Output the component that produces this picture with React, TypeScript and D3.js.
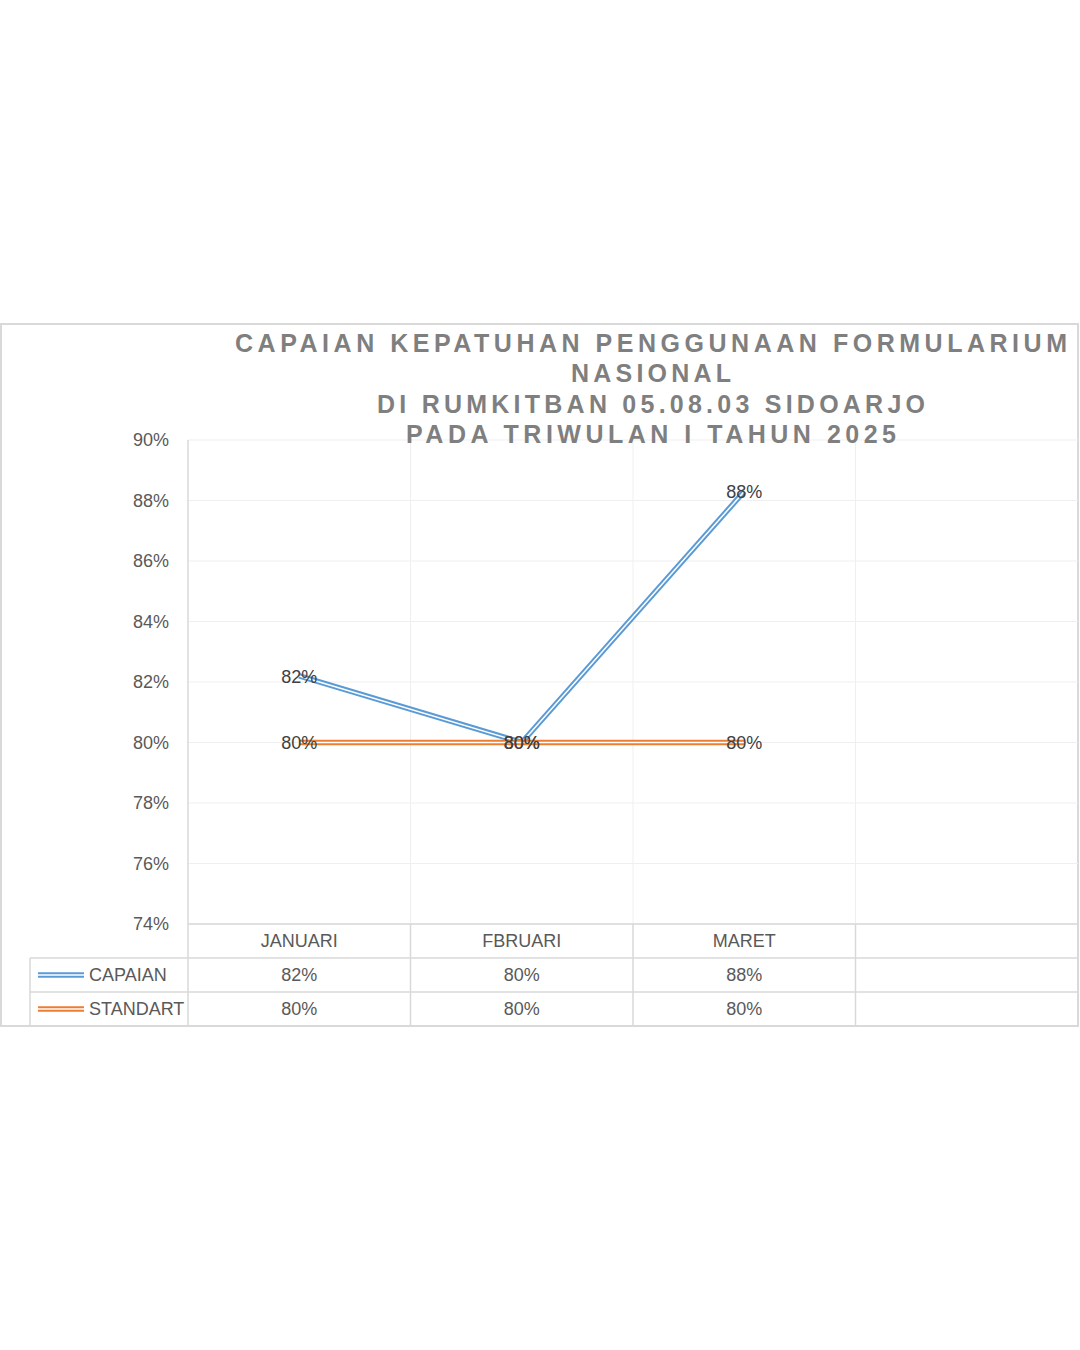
import React from "react";
import * as d3 from "d3";

const titleLines = [
  "CAPAIAN KEPATUHAN PENGGUNAAN FORMULARIUM",
  "NASIONAL",
  "DI RUMKITBAN 05.08.03 SIDOARJO",
  "PADA TRIWULAN I TAHUN 2025",
];
const categories = ["JANUARI", "FBRUARI", "MARET", ""];
const seriesNames = ["CAPAIAN", "STANDART"];
const capaian = [0.822, 0.8, 0.883];
const standart = [0.8, 0.8, 0.8];
const yTicks = [0.74, 0.76, 0.78, 0.8, 0.82, 0.84, 0.86, 0.88, 0.9];
const colors = ["#5B9BD5", "#ED7D31"];

const W = 1080;
const H = 1350;
const FONT = "'Liberation Sans', Arial, sans-serif";
const titleWidths = [832, 160, 548, 490];

export default function App() {
  const plotL = 188;
  const plotR = 1078;
  const plotT = 440;
  const plotB = 924;
  const rowH = 34;
  const legendL = 30;

  const x = d3.scaleBand<string>().domain(categories).range([plotL, plotR]);
  const y = d3.scaleLinear().domain([0.74, 0.9]).range([plotB, plotT]);
  const fmt = d3.format(".0%");
  const series = [capaian, standart];

  const line = d3
    .line<number>()
    .x((_, i) => (x(categories[i]) as number) + x.bandwidth() / 2)
    .y((d) => y(d));

  const tableBottom = plotB + rowH * 3;

  return (
    <svg
      width={W}
      height={H}
      style={{ position: "absolute", left: 0, top: 0, background: "#fff" }}
      fontFamily={FONT}
    >
      <rect x={0} y={0} width={W} height={H} fill="#fff" />
      <rect x={1} y={324} width={1077} height={702} fill="#fff" stroke="#d9d9d9" strokeWidth={2} />

      {yTicks.map((t) => (
        <line key={"g" + t} x1={plotL} x2={plotR} y1={y(t)} y2={y(t)} stroke="#efefef" strokeWidth={1} />
      ))}
      {categories.slice(1).map((c) => (
        <line
          key={"v" + c}
          x1={x(c) as number}
          x2={x(c) as number}
          y1={plotT}
          y2={plotB}
          stroke="#efefef"
          strokeWidth={1}
        />
      ))}

      {titleLines.map((t, i) => (
        <text
          key={t}
          x={651}
          y={351.5 + i * 30.5}
          textAnchor="middle"
          fontWeight="bold"
          fontSize={25}
          fill="#7f7f7f"
          textLength={titleWidths[i]}
          lengthAdjust="spacing"
        >
          {t}
        </text>
      ))}

      {yTicks.map((t) => (
        <text key={"t" + t} x={169} y={y(t)} dy="0.35em" textAnchor="end" fontSize={18} fill="#595959">
          {fmt(t)}
        </text>
      ))}

      <g stroke="#d9d9d9" strokeWidth={1.5}>
        <line x1={plotL} x2={plotL} y1={plotT} y2={tableBottom} />
        <line x1={plotL} x2={plotR} y1={plotB} y2={plotB} />
        {[1, 2, 3].map((r) => (
          <line key={"r" + r} x1={legendL} x2={plotR} y1={plotB + r * rowH} y2={plotB + r * rowH} />
        ))}
        <line x1={legendL} x2={legendL} y1={plotB + rowH} y2={tableBottom} />
        {categories.slice(1).map((c) => (
          <line key={"tv" + c} x1={x(c) as number} x2={x(c) as number} y1={plotB} y2={tableBottom} />
        ))}
      </g>

      {categories.map((c) => (
        <text
          key={"c" + c}
          x={(x(c) as number) + x.bandwidth() / 2}
          y={plotB + rowH / 2}
          dy="0.35em"
          textAnchor="middle"
          fontSize={18}
          fill="#595959"
        >
          {c}
        </text>
      ))}

      {series.map((s, si) => {
        const cy = plotB + rowH * (si + 1) + rowH / 2;
        return (
          <g key={"row" + si}>
            <line x1={38} x2={84} y1={cy} y2={cy} stroke={colors[si]} strokeWidth={5.5} />
            <line x1={38} x2={84} y1={cy} y2={cy} stroke="#fff" strokeWidth={1.5} />
            <text x={89} y={cy} dy="0.35em" fontSize={18} fill="#595959">
              {seriesNames[si]}
            </text>
            {s.map((v, i) => (
              <text
                key={i}
                x={(x(categories[i]) as number) + x.bandwidth() / 2}
                y={cy}
                dy="0.35em"
                textAnchor="middle"
                fontSize={18}
                fill="#595959"
              >
                {fmt(v)}
              </text>
            ))}
          </g>
        );
      })}

      {series.map((s, si) => (
        <g key={"s" + si}>
          <path d={line(s) as string} fill="none" stroke={colors[si]} strokeWidth={5.5} strokeLinejoin="round" />
          <path d={line(s) as string} fill="none" stroke="#fff" strokeWidth={1.5} strokeLinejoin="round" />
        </g>
      ))}

      {series.map((s, si) =>
        s.map((v, i) => (
          <text
            key={"dl" + si + i}
            x={(x(categories[i]) as number) + x.bandwidth() / 2}
            y={y(v) + 0.5}
            dy="0.35em"
            textAnchor="middle"
            fontSize={18}
            fill="#404040"
          >
            {fmt(v)}
          </text>
        ))
      )}
    </svg>
  );
}
